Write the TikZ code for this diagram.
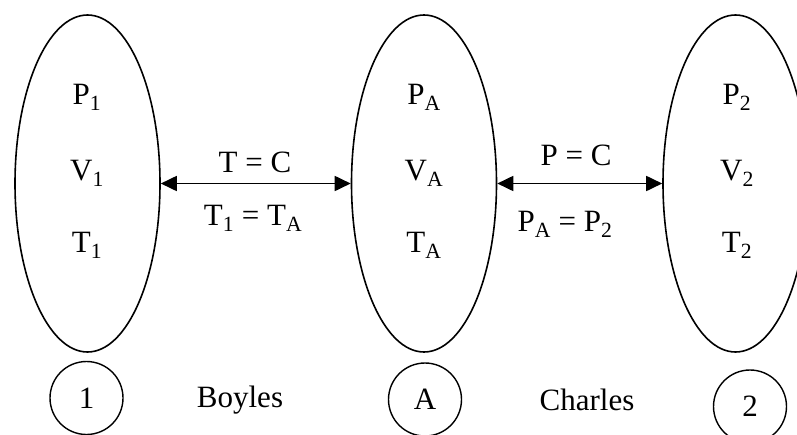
\documentclass[tikz,border=0pt]{standalone}
\usepackage{fontspec}
\setmainfont{Liberation Serif}
\usetikzlibrary{shapes.geometric,arrows.meta}
\definecolor{stateLine}{HTML}{000000}
\tikzset{
  gas state/.style={ellipse, draw=stateLine, line width=1.6pt,
    minimum width=145pt, minimum height=337pt, inner sep=0pt},
  state tag/.style={circle, draw=stateLine, line width=1.4pt,
    minimum size=73pt, inner sep=0pt},
  law arrow/.style={{Triangle[length=16pt,width=15pt]}-{Triangle[length=16pt,width=15pt]},
    line width=1.8pt, draw=stateLine},
  var/.style={inner sep=0pt}
}
\newcommand{\statevars}[3]{%
  \node[var] (#1P) at (#2,97) {P\textsubscript{#3}};
  \node[var] (#1V) at (#2,173) {V\textsubscript{#3}};
  \node[var] (#1T) at (#2,245) {T\textsubscript{#3}};%
}

\begin{document}
\begin{tikzpicture}[x=1pt, y=-1pt, font=\fontsize{31}{36}\selectfont]
\clip (0,0) rectangle (797,434);

% the three states of the gas
\node[gas state] (stateOne) at (87.5,183.5) {};
\node[gas state] (stateA) at (424,183.5) {};
\node[gas state] (stateTwo) at (735.5,183.5) {};

\statevars{one}{87}{1}
\statevars{mid}{424}{A}
\statevars{two}{737}{2}

% Boyle: 1 -> A at constant temperature
\draw[law arrow] (stateOne.east) -- (stateA.west);
\node[var] (boyleTop) at (255,162) {T = C};
\node[var] (boyleBot) at (253,218) {T\textsubscript{1} = T\textsubscript{A}};

% Charles: A -> 2 at constant pressure
\draw[law arrow] (stateA.east) -- (stateTwo.west);
\node[var] (charlesTop) at (576,155) {P = C};
\node[var] (charlesBot) at (565,224) {P\textsubscript{A} = P\textsubscript{2}};

% tags and law names along the bottom
\node[state tag] (tagOne) at (86.5,398) {\raisebox{-5pt}{1}};
\node[state tag] (tagA) at (425,399.5) {\raisebox{-7pt}{A}};
\node[state tag] (tagTwo) at (750,406.5) {\raisebox{-10pt}{2}};
\node[var] (boyleName) at (240,400) {Boyles};
\node[var] (charlesName) at (587,400) {Charles};

\end{tikzpicture}
\end{document}
